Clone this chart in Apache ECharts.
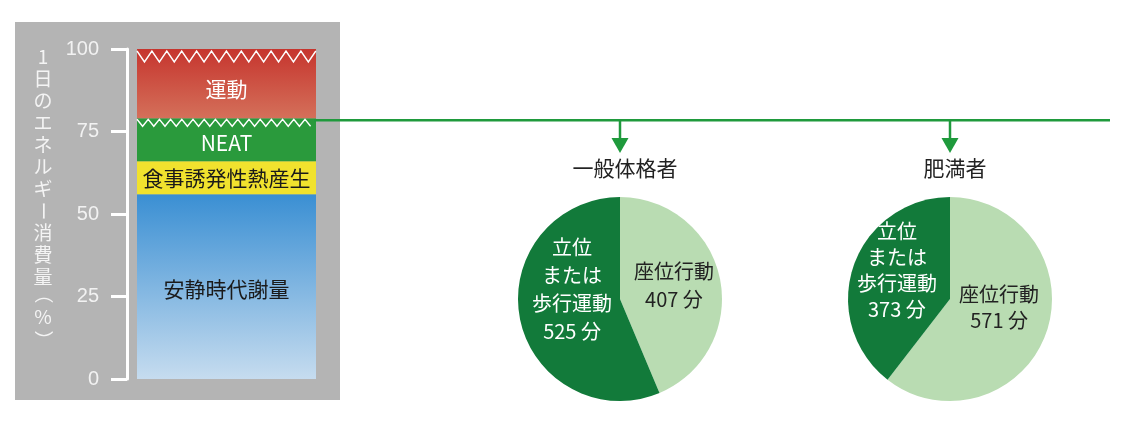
<!DOCTYPE html>
<html><head><meta charset="utf-8">
<script src="https://cdn.jsdelivr.net/npm/echarts@6/dist/echarts.min.js"></script>
<style>html,body{margin:0;padding:0;background:#fff}#c{width:1132px;height:427px}</style>
</head><body><div id="c"></div>
<script>
// ---------- data ----------
const barCategory = ['1日'];
const segmentNames = ['安静時代謝量', '食事誘発性熱産生', 'NEAT', '運動'];
const segmentValues = [56, 10, 13, 21];
const yTickValues = [0, 25, 50, 75, 100];
const axisTitle = '1日のエネルギー消費量（%）';
const pieTitles = ['一般体格者', '肥満者'];
const pieNames = ['座位行動', '立位\nまたは\n歩行運動'];
const pieGeneral = [407, 525];
const pieObese = [571, 373];
const minuteUnit = '分';

// ---------- style ----------
const FONT = '"Noto Sans CJK JP", "Noto Sans", sans-serif';
const GRID_LEFT = 137, GRID_WIDTH = 179, GRID_TOP = 49, GRID_BOTTOM = 48;
const GREEN_LINE = '#1f9a3c';
const PIE_DARK = '#127a3a', PIE_LIGHT = '#b9dcb2';
const PIE_CENTERS = [[620, 299], [950, 299]];
const PIE_R = 102;
const PIE_LINE_H = [28, 26];
// small label nudges [slice0, slice1] per pie
const PIE_LABEL_DY = [[-1.5, -10], [-4.5, -5.5]];
const PIE_LABEL_DX = [[0.5, 2.5], [-1, -1]];

const segmentStyles = [
  { color: new echarts.graphic.LinearGradient(0, 0, 0, 1, [{offset: 0, color: '#3a8fd3'}, {offset: 1, color: '#c6dcef'}]), text: '#1a1a1a', offset: [0, 2] },
  { color: '#f1e22e', text: '#1a1a1a', offset: [0, 0] },
  { color: '#2a9a3c', text: '#ffffff', offset: [0, 3] },
  { color: new echarts.graphic.LinearGradient(0, 0, 0, 1, [{offset: 0, color: '#c6352e'}, {offset: 1, color: '#d4705a'}]), text: '#ffffff', offset: [0, 5] }
];

// boundaries where the white zigzag lines are drawn (NEAT top, total top)
const cum = [];
segmentValues.reduce((a, v) => { cum.push(a + v); return a + v; }, 0);
const zigzagData = [[0, cum[2]], [0, cum[3]]];

const chart = echarts.init(document.getElementById('c'), null, {renderer: 'canvas'});

const barSeries = segmentNames.map((name, i) => ({
  type: 'bar', name, stack: 'total', barWidth: '100%', data: [segmentValues[i]],
  itemStyle: { color: segmentStyles[i].color },
  label: { show: true, position: 'inside', formatter: '{a}', color: segmentStyles[i].text,
           fontSize: 21, fontFamily: FONT, offset: segmentStyles[i].offset },
  silent: true
}));

const zigzagSeries = {
  type: 'custom', data: zigzagData, z: 5, silent: true,
  renderItem(params, api) {
    const p = api.coord([api.value(0), api.value(1)]);
    const w = api.size([1, 0])[0];
    const big = params.dataIndex === 1;
    const period = big ? 14.9 : 11.2, amp = big ? 11 : 7;
    const x0 = p[0] - w / 2, x1 = p[0] + w / 2;
    const y0 = p[1] + (big ? 2 : 1);
    const pts = [];
    let i = 0;
    for (let x = x0; x <= x1 + 0.01; x += period / 2, i++) pts.push([Math.min(x, x1), i % 2 ? y0 + amp : y0]);
    return { type: 'polyline', shape: { points: pts }, style: { stroke: '#ffffff', lineWidth: 1.4, fill: null } };
  }
};

function pieSeries(values, center, k) {
  return {
    type: 'pie', center, radius: PIE_R, startAngle: 90, clockwise: true, silent: true,
    data: values.map((v, i) => ({
      name: pieNames[i], value: v,
      itemStyle: { color: i === 0 ? PIE_LIGHT : PIE_DARK },
      label: { color: i === 0 ? '#222' : '#fff' }
    })),
    label: { show: true, position: 'inside', fontSize: 20, lineHeight: PIE_LINE_H[k], fontFamily: FONT,
             formatter: p => p.name + '\n' + p.value + ' ' + minuteUnit },
    labelLayout: p => ({ dx: PIE_LABEL_DX[k][p.dataIndex], dy: PIE_LABEL_DY[k][p.dataIndex] }),
    labelLine: { show: false },
    itemStyle: { borderWidth: 0 }
  };
}

// vertical axis title (tategaki): upright chars, rotated long-vowel mark and brackets
const vertChars = [];
{
  let y = 57;
  const rotated = new Set(['ー', '（', '）']);
  const adv = { '（': 19, '%': 19 };
  const shift = { '（': -4, '）': 4 };
  for (const ch of axisTitle) {
    if (ch === '（') y -= 1;
    vertChars.push({
      type: 'text', x: 43, y: y + (shift[ch] || 0), rotation: rotated.has(ch) ? -Math.PI / 2 : 0,
      style: { text: ch, fill: '#f4f4f4', font: '19px ' + FONT, textAlign: 'center', textVerticalAlign: 'middle' },
      silent: true, z: 10
    });
    y += adv[ch] || 22;
  }
}

chart.setOption({
  animation: false,
  grid: { left: GRID_LEFT, width: GRID_WIDTH, top: GRID_TOP, bottom: GRID_BOTTOM },
  xAxis: { type: 'category', data: barCategory, show: false },
  yAxis: {
    type: 'value', min: yTickValues[0], max: yTickValues[yTickValues.length - 1],
    interval: yTickValues[1] - yTickValues[0], offset: 10,
    axisLine: { show: true, lineStyle: { color: '#ffffff', width: 3 } },
    axisTick: { show: true, length: 16, lineStyle: { color: '#ffffff', width: 3 } },
    axisLabel: { color: '#f2f2f2', fontSize: 20, margin: 28, fontFamily: 'Liberation Sans, sans-serif' },
    splitLine: { show: false }
  },
  title: pieTitles.map((t, i) => ({
    text: t, left: PIE_CENTERS[i][0], top: 153, textAlign: 'center',
    textStyle: { fontSize: 21, fontWeight: 'normal', color: '#222', fontFamily: FONT }
  })),
  series: [...barSeries, zigzagSeries, pieSeries(pieGeneral, PIE_CENTERS[0], 0), pieSeries(pieObese, PIE_CENTERS[1], 1)]
});

// connector line from the NEAT boundary to both pies
const lineY = chart.convertToPixel({ gridIndex: 0 }, [0, cum[2]])[1] + 2;
const g = [
  { type: 'line', shape: { x1: GRID_LEFT + GRID_WIDTH - 2, y1: lineY, x2: 1110, y2: lineY },
    style: { stroke: GREEN_LINE, lineWidth: 2.5 }, z: 20, silent: true }
];
PIE_CENTERS.forEach(c => {
  g.push({ type: 'line', shape: { x1: c[0], y1: lineY, x2: c[0], y2: 141 }, style: { stroke: GREEN_LINE, lineWidth: 2.5 }, z: 20, silent: true });
  g.push({ type: 'polygon', shape: { points: [[c[0] - 8.5, 138], [c[0] + 8.5, 138], [c[0], 153]] }, style: { fill: GREEN_LINE }, z: 20, silent: true });
});
chart.setOption({ graphic: [
  { type: 'rect', shape: { x: 15, y: 22, width: 325, height: 378 }, style: { fill: '#b4b4b4' }, z: -10, silent: true },
  ...vertChars, ...g
] });
</script></body></html>
